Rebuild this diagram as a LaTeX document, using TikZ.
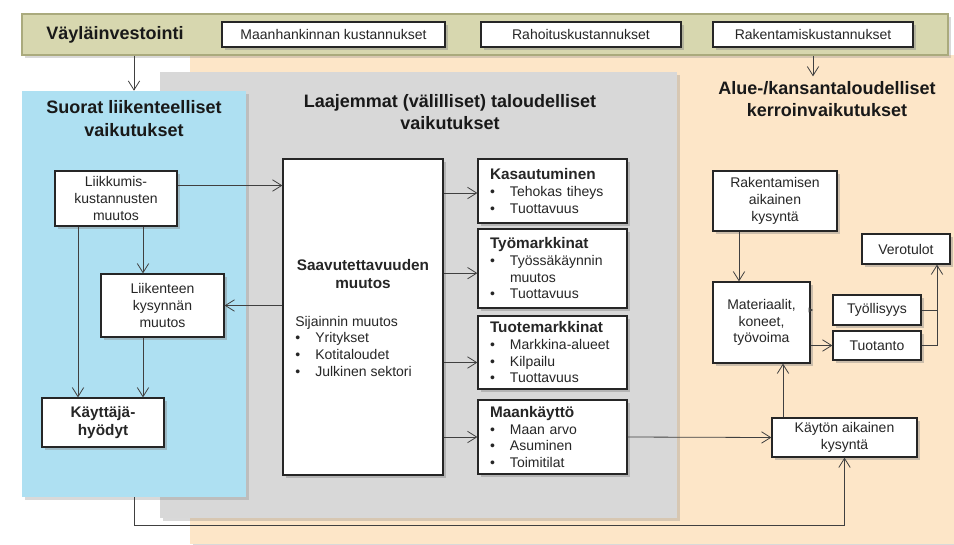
\documentclass[tikz,border=0pt]{standalone}
\usepackage{fontspec}
\setmainfont{Liberation Sans}
\usetikzlibrary{positioning,arrows.meta,shadows}

\definecolor{orangebg}{RGB}{253,230,200}
\definecolor{graybg}{RGB}{216,216,216}
\definecolor{bluebg}{RGB}{174,224,242}
\definecolor{bandbg}{RGB}{215,215,175}
\definecolor{bandln}{RGB}{170,170,125}

\newcommand{\bodyfs}{\fontsize{10.5}{12.5}\selectfont}
\newcommand{\hdfs}{\fontsize{11.5}{13}\selectfont\bfseries}
\newcommand{\ttlfs}{\fontsize{13.5}{17}\selectfont\bfseries}
\newcommand{\bul}[1]{\makebox[15pt][l]{\textbullet}#1}

\begin{document}
\begin{tikzpicture}[
    x=0.75pt, y=-0.75pt,
    sz/.style 2 args={minimum width=#1*0.75pt, minimum height=#2*0.75pt},
    panel/.style={inner sep=0pt, drop shadow={shadow xshift=2pt, shadow yshift=-2pt, opacity=0.3}},
    box/.style={draw=black!85, line width=0.9pt, fill=white, align=center, inner sep=0pt,
                font=\bodyfs, text=black!85,
                drop shadow={shadow xshift=2pt, shadow yshift=-2pt, opacity=0.4}},
    lbox/.style={box, align=left, inner xsep=9pt},
    arr/.style={-{Straight Barb[length=2.4mm,width=3mm]}, line width=0.6pt, draw=black!75},
    ln/.style={line width=0.6pt, draw=black!75},
    ttl/.style={font=\ttlfs, align=center, text=black!90},
    lbl/.style={font=\bodyfs, align=left, text=black!85, inner sep=0pt}
  ]
  \useasboundingbox (0,0) rectangle (954,544);

  % background panels
  \node[panel, fill=orangebg, sz={764}{489}] (orangep) at (572,299.5) {};
  \node[panel, fill=graybg,   sz={517}{446}] (grayp)   at (418.5,295) {};
  \node[panel, fill=bluebg,   sz={224}{406}] (bluep)   at (134,294) {};
  \node[panel, fill=bandbg, draw=bandln, line width=0.8pt, sz={926}{41}] (band) at (485,34.5) {};

  % top band
  \node[font=\ttlfs, text=black!90] (vaytxt) at (115,35) {Väyläinvestointi};
  \node[box, sz={223}{25}] (maanh)   at (333.5,34.5) {Maanhankinnan kustannukset};
  \node[box, sz={200}{25}] (rahoit)  at (581,34.5)   {Rahoituskustannukset};
  \node[box, sz={200}{25}] (rakkust) at (813,34.5)   {Rakentamiskustannukset};

  % titles
  \node[ttl] (suorttl) at (134,118.5) {Suorat liikenteelliset\\vaikutukset};
  \node[ttl] (laajttl) at (450,112)   {Laajemmat (välilliset) taloudelliset\\vaikutukset};
  \node[ttl] (aluettl) at (827,99)    {Alue-/kansantaloudelliset\\kerroinvaikutukset};

  % direct effects
  \node[box, sz={122}{55}] (liik) at (116,198.5)   {Liikkumis-\\kustannusten\\muutos};
  \node[box, sz={123}{63}] (lkys) at (162.5,305.5) {Liikenteen\\kysynnän\\muutos};
  \node[box, sz={122}{49}, font=\hdfs] (kayt) at (103,422.5) {Käyttäjä-\\hyödyt};

  % wider economic effects
  \node[box, sz={160}{316}] (saav) at (363,317) {};
  \node[font=\hdfs, align=center, text=black!85] (saavttl) at (363,274) {Saavutettavuuden\\muutos};
  \node[lbl, anchor=west] (saavlst) at (295,346)
    {Sijainnin muutos\\\bul{Yritykset}\\\bul{Kotitaloudet}\\\bul{Julkinen sektori}};

  \node[lbox, sz={149}{64}, text width=93.75pt] (kasa) at (552.5,191)
    {{\hdfs Kasautuminen}\\\bul{Tehokas tiheys}\\\bul{Tuottavuus}};
  \node[lbox, sz={149}{79}, text width=93.75pt] (tyom) at (552.5,268.5)
    {{\hdfs Työmarkkinat}\\\bul{Työssäkäynnin}\\\hspace*{15pt}muutos\\\bul{Tuottavuus}};
  \node[lbox, sz={149}{73}, text width=93.75pt] (tuot) at (552.5,352.5)
    {{\hdfs Tuotemarkkinat}\\\bul{Markkina-alueet}\\\bul{Kilpailu}\\\bul{Tuottavuus}};
  \node[lbox, sz={149}{74}, text width=93.75pt] (maank) at (552.5,437)
    {{\hdfs Maankäyttö}\\\bul{Maan arvo}\\\bul{Asuminen}\\\bul{Toimitilat}};

  % multiplier effects
  \node[box, sz={124}{60}] (rakaik) at (775,201)   {Rakentamisen\\aikainen\\kysyntä};
  \node[box, sz={97}{81}]  (mat)    at (761.5,322.5) {Materiaalit,\\koneet,\\työvoima};
  \node[box, sz={88}{30}]  (vero)   at (906,249)   {Verotulot};
  \node[box, sz={88}{30}]  (tyoll)  at (877,310)   {Työllisyys};
  \node[box, sz={88}{29}]  (tuo)    at (877,345.5) {Tuotanto};
  \node[box, sz={145}{39}] (kaytk)  at (844.5,437.5) {Käytön aikainen\\kysyntä};

  \coordinate (xa) at (143,0);
  \coordinate (xb) at (78,0);
  \coordinate (xc) at (783,0);
  \coordinate (xd) at (739,0);
  \coordinate (xe) at (937,0);
  \coordinate (yb) at (0,525);

  % connectors
  \draw[arr] (band.south -| bluep.north) -- (bluep.north);
  \draw[arr] (band.south -| rakkust.south) -- (rakkust.south |- aluettl.north);

  \draw[arr] ([yshift=9.75pt]liik.east) -- ([yshift=9.75pt]liik.east -| saav.west);
  \draw[arr] (liik.south -| xa) -- (lkys.north -| xa);
  \draw[arr] (liik.south -| xb) -- (kayt.north -| xb);
  \draw[arr] (lkys.south -| xa) -- (kayt.north -| xa);
  \draw[arr] (saav.west |- lkys.east) -- (lkys.east);

  \draw[arr] ([yshift=-1.5pt]saav.east |- kasa.west) -- ([yshift=-1.5pt]kasa.west);
  \draw[arr] ([yshift=-3.5pt]saav.east |- tyom.west) -- ([yshift=-3.5pt]tyom.west);
  \draw[arr] ([yshift=-7.5pt]saav.east |- tuot.west) -- ([yshift=-7.5pt]tuot.west);
  \draw[arr] (saav.east |- maank.west) -- (maank.west);

  \draw[arr] (maank.east) -- (kaytk.west);
  \draw[arr] (kaytk.north -| xc) -- (mat.south -| xc);
  \draw[arr] (rakaik.south -| xd) -- (mat.north -| xd);
  \draw[arr] (mat.east |- tuo.west) -- (tuo.west);
  \draw[-{Latex[length=1.2mm,width=1.4mm]}, ln] (mat.east |- tyoll.west) -- ([xshift=2pt]mat.east |- tyoll.west);
  \draw[ln] (tyoll.east) -- (tyoll.east -| xe);
  \draw[arr] (tuo.east) -- (tuo.east -| xe) -- (vero.south -| xe);

  \draw[arr] (bluep.south) -- (bluep.south |- yb) -| (kaytk.south);
\end{tikzpicture}
\end{document}
